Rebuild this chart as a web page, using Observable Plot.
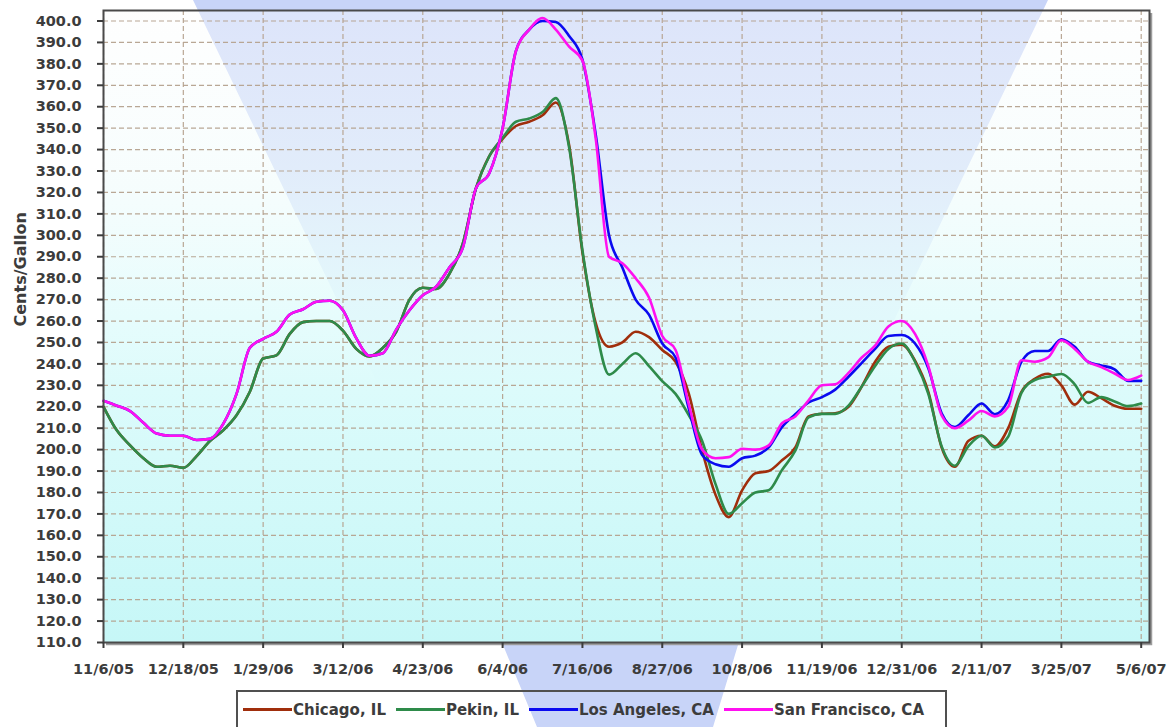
<!DOCTYPE html>
<html>
<head>
<meta charset="utf-8">
<script src="https://cdn.jsdelivr.net/npm/d3@7"></script>
<script src="https://cdn.jsdelivr.net/npm/@observablehq/plot@0.6"></script>
<style>
  body { margin: 0; background: #fff; font-family: "DejaVu Sans", sans-serif; }
  #wrap { position: relative; width: 1169px; height: 727px; overflow: hidden; }
  #funnel {
    position: absolute; left: 0; top: 0; width: 1169px; height: 727px;
    background: #c8d4f8;
    clip-path: polygon(193px 0, 1048px 0, 738px 645px, 713px 727px, 537px 727px, 503px 645px);
  }
  #chart { position: absolute; left: 0; top: 0; }
  #legend {
    position: absolute; left: 236px; top: 690px; width: 702px; height: 60px;
    border: 2px solid #505050; box-sizing: content-box;
    display: flex; align-items: flex-start; padding-left: 5px; gap: 10px;
    font-weight: bold; font-size: 15px; color: #3c3c3c;
  }
  .item { display: flex; align-items: center; height: 35px; }
  .swatch { display: inline-block; width: 49px; height: 3px; margin-right: 1px; }
</style>
</head>
<body>
<div id="wrap">
  <div id="funnel"></div>
  <div id="chart"></div>
  <div id="legend"></div>
</div>
<script>
// Weekly retail prices, cents per gallon, starting the week of 11/6/05
const cities = ["Chicago, IL", "Pekin, IL", "Los Angeles, CA", "San Francisco, CA"];
const cityColors = ["#a02e0c", "#2e8b4a", "#0a0af0", "#ff10f0"];

const chicago = [
  220, 209, 202, 196, 192, 192.5, 191.5, 197, 204, 209,
  216, 227, 242.5, 244, 254, 259.5, 260, 260, 255.5, 247,
  243.5, 247.5, 255, 270, 275.5, 275, 282, 296, 322, 337,
  345, 351, 353, 356, 362, 342, 292, 259, 248, 250,
  255, 252.5, 246.5, 241, 226, 199.5, 179, 168.5, 181, 189,
  190, 195, 201, 215.5, 216.7, 217, 220, 229.5, 241, 248,
  249, 241.5, 227, 201, 192, 204, 206.5, 201.5, 210, 227,
  233, 235.4, 230, 221, 227, 224, 220.5, 219.1, 219.1
];

const pekin = [
  220, 209, 202, 196, 192, 192.5, 191.5, 197, 204, 209,
  216, 227, 242.5, 244, 254, 259.5, 260, 260, 255.5, 247,
  243.5, 247.5, 255, 270, 275.5, 275, 282, 296, 322, 337,
  345.5, 353, 354.5, 357.5, 364, 341, 293, 257, 235, 240,
  245, 239, 232, 226, 216, 204, 184, 170, 175, 180,
  181, 190.5, 199.5, 215, 216.7, 216.7, 220.5, 229.5, 239, 247,
  249.5, 241, 226, 201.5, 192.5, 201.5, 206.5, 201, 206, 226.5,
  232.5, 234, 235.3, 230.5, 221.8, 224.5, 222.5, 220.3, 221.5
];

const losAngeles = [
  222.8, 220.5, 218, 212.5, 207.5, 206.5, 206.5, 204.5, 205, 212,
  226, 247.5, 251.7, 255, 263, 265.5, 269, 269.5, 265, 252,
  243.8, 245, 256, 265, 272, 276, 285, 294, 322, 329,
  350, 386, 396, 400, 399.5, 393, 382, 347, 300, 285,
  270, 263, 249.5, 243, 219, 197.5, 193.2, 192, 196, 197.2,
  201, 210.5, 216.5, 222, 224.5, 228, 234, 240.5, 247, 253,
  253.5, 249.5, 238, 217, 210.5, 216, 221.5, 216.5, 223, 241,
  246, 246, 251.5, 248, 241, 239.3, 237.5, 232.1, 232.1
];

const sanFrancisco = [
  222.8, 220.5, 218, 212.5, 207.5, 206.5, 206.5, 204.5, 205, 212,
  226, 247.5, 251.7, 255, 263, 265.5, 269, 269.5, 265, 252,
  243.8, 245, 256, 265, 272, 276, 285, 294, 322, 329,
  350, 386, 396, 401.4, 396, 388, 381.5, 345, 290, 287,
  280, 271, 253, 246.5, 221, 200, 196, 196.5, 200.4, 200,
  202, 212.3, 215.5, 223, 230, 230.5, 235.8, 243, 248.5, 257.5,
  260, 254, 239, 216, 210, 213.5, 218, 215.5, 220, 241.7,
  241, 243, 251, 247, 241, 238.5, 235.5, 232.5, 234.5
];

const xTickLabels = ["11/6/05", "12/18/05", "1/29/06", "3/12/06", "4/23/06", "6/4/06", "7/16/06",
                     "8/27/06", "10/8/06", "11/19/06", "12/31/06", "2/11/07", "3/25/07", "5/6/07"];
const yTicks = d3.range(110, 401, 10);

const parseDate = d3.utcParse("%m/%d/%y");
const xTickDates = xTickLabels.map(parseDate);
const labelByTime = new Map(xTickDates.map((d, i) => [+d, xTickLabels[i]]));

// one week between readings
const weeks = chicago.map((_, i) => d3.utcDay.offset(xTickDates[0], 7 * i));
const seriesValues = [chicago, pekin, losAngeles, sanFrancisco];
const rows = [];
cities.forEach((city, k) => {
  seriesValues[k].forEach((v, i) => rows.push({city, date: weeks[i], value: v}));
});

// grey drop shadow along the right and bottom edges of the plotting area
function frameShadow(index, scales, values, dimensions) {
  const {width, height, marginTop, marginRight, marginBottom, marginLeft} = dimensions;
  const right = width - marginRight, bottom = height - marginBottom;
  const path = document.createElementNS("http://www.w3.org/2000/svg", "path");
  path.setAttribute("d", `M${right + 2},${marginTop + 3}V${bottom + 2}H${marginLeft + 3}`);
  path.setAttribute("fill", "none");
  path.setAttribute("stroke", "#9c9c9c");
  path.setAttribute("stroke-width", 2.5);
  return path;
}

const chart = Plot.plot({
  width: 1169,
  height: 684,
  marginLeft: 103,
  marginRight: 20,
  marginTop: 10,
  marginBottom: 42,
  style: {
    fontFamily: '"DejaVu Sans", sans-serif',
    fontSize: "14.5px",
    fontWeight: "bold",
    color: "#3c3c3c",
    background: "transparent",
    overflow: "visible"
  },
  x: {type: "utc", domain: [xTickDates[0], xTickDates[xTickDates.length - 1]], range: [103, 1140.7]},
  y: {domain: [110, 400], range: [642, 20.5]},
  color: {domain: cities, range: cityColors},
  marks: [
    frameShadow,
    Plot.frame({fill: "url(#plotBg)"}),
    Plot.gridY(yTicks, {stroke: "#b5a28f", strokeOpacity: 0.95, strokeDasharray: "5,3", strokeWidth: 1.2}),
    Plot.gridX(xTickDates, {stroke: "#b5a28f", strokeOpacity: 0.95, strokeDasharray: "5,3", strokeWidth: 1.2}),
    Plot.line(rows, {x: "date", y: "value", z: "city", stroke: "city", strokeWidth: 2.6, curve: "monotone-x"}),
    Plot.frame({stroke: "#4a4a4a", strokeWidth: 2}),
    Plot.axisY(yTicks, {tickSize: 6, tickPadding: 16, tickFormat: d => d.toFixed(1), label: null, strokeWidth: 2}),
    Plot.axisX(xTickDates, {tickSize: 6, tickPadding: 15, tickFormat: d => labelByTime.get(+d), label: null, strokeWidth: 2}),
    Plot.text(["Cents/Gallon"], {frameAnchor: "left", dx: -83, rotate: -90, fontSize: 16, fontWeight: "bold", fill: "#3c3c3c"})
  ]
});

// vertical wash behind the plotting area: pale at the top, cyan at the bottom
const defs = d3.select(chart).insert("defs", ":first-child");
const grad = defs.append("linearGradient").attr("id", "plotBg")
  .attr("x1", 0).attr("y1", 0).attr("x2", 0).attr("y2", 1);
[
  [0, "rgb(252,253,253)", 0.4],
  [0.25, "rgb(242,252,252)", 0.6],
  [0.45, "rgb(230,252,252)", 0.88],
  [0.6, "rgb(220,251,251)", 1],
  [1, "rgb(198,247,247)", 1]
].forEach(([o, c, a]) => grad.append("stop").attr("offset", o).attr("stop-color", c).attr("stop-opacity", a));

document.getElementById("chart").appendChild(chart);

// legend row below the chart
const legend = d3.select("#legend");
cities.forEach((city, k) => {
  const item = legend.append("div").attr("class", "item");
  item.append("span").attr("class", "swatch").style("background", cityColors[k]);
  item.append("span").text(city);
});
</script>
</body>
</html>
